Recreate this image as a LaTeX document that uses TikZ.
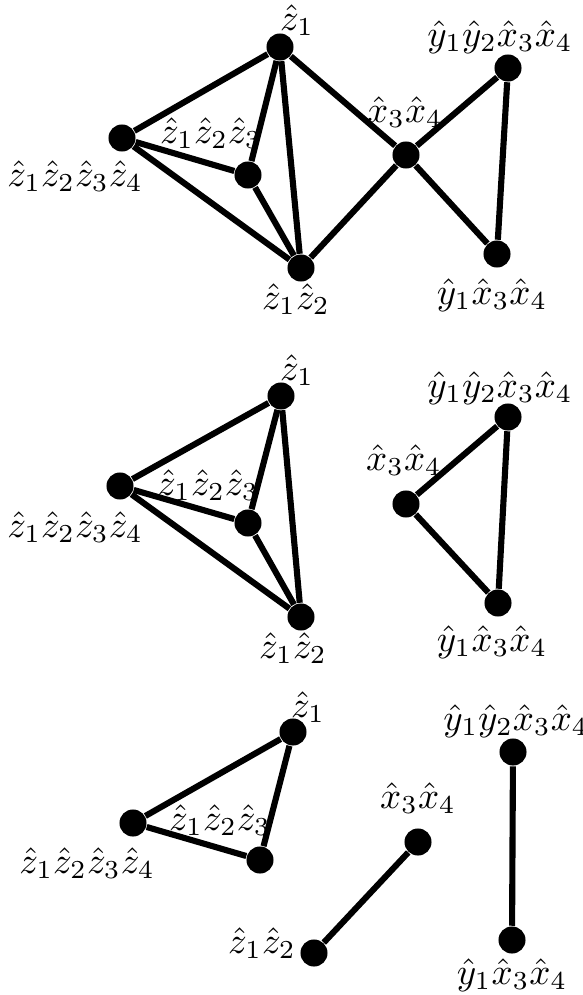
\documentclass[tikz,border=0pt]{standalone}
\usepackage{amsmath}
\usepackage{tikz}
\usetikzlibrary{positioning}

\begin{document}
\begin{tikzpicture}[
  x=0.27pt, y=-0.27pt,
  dot/.style={circle, fill=black, inner sep=0pt, minimum size=7.3pt},
  lab/.style={inner sep=0pt},
  edge/.style={line width=1.65pt}
]
\useasboundingbox (0,0) rectangle (582,995);

\node[dot] (p1z1)    at (280,47)  {};
\node[dot] (p1z1234) at (122,138) {};
\node[dot] (p1z123)  at (248,175) {};
\node[dot] (p1z12)   at (301,268) {};
\node[dot] (p1x34)   at (406,155) {};
\node[dot] (p1y12)   at (508,68)  {};
\node[dot] (p1y1)    at (497,254) {};
\node[lab] (p1l1)    at (297,20)  {$\hat{z}_1$};
\node[lab] (p1l1234) at (75,176)  {$\hat{z}_1\hat{z}_2\hat{z}_3\hat{z}_4$};
\node[lab] (p1l123)  at (211,133) {$\hat{z}_1\hat{z}_2\hat{z}_3$};
\node[lab] (p1l12)   at (296,299) {$\hat{z}_1\hat{z}_2$};
\node[lab] (p1lx34)  at (405,112) {$\hat{x}_3\hat{x}_4$};
\node[lab] (p1ly12)  at (500,37)  {$\hat{y}_1\hat{y}_2\hat{x}_3\hat{x}_4$};
\node[lab] (p1ly1)   at (492,295) {$\hat{y}_1\hat{x}_3\hat{x}_4$};
\draw[edge] (p1z1) -- (p1z1234);
\draw[edge] (p1z1) -- (p1z123);
\draw[edge] (p1z1) -- (p1z12);
\draw[edge] (p1z1) -- (p1x34);
\draw[edge] (p1z1234) -- (p1z123);
\draw[edge] (p1z1234) -- (p1z12);
\draw[edge] (p1z123) -- (p1z12);
\draw[edge] (p1z12) -- (p1x34);
\draw[edge] (p1x34) -- (p1y12);
\draw[edge] (p1x34) -- (p1y1);
\draw[edge] (p1y12) -- (p1y1);

\node[dot] (p2z1)    at (281,396) {};
\node[dot] (p2z1234) at (120,486) {};
\node[dot] (p2z123)  at (248,523) {};
\node[dot] (p2z12)   at (301,617) {};
\node[dot] (p2x34)   at (406,504) {};
\node[dot] (p2y12)   at (508,417) {};
\node[dot] (p2y1)    at (498,603) {};
\node[lab] (p2l1)    at (297,370) {$\hat{z}_1$};
\node[lab] (p2l1234) at (75,527)  {$\hat{z}_1\hat{z}_2\hat{z}_3\hat{z}_4$};
\node[lab] (p2l123)  at (208,485) {$\hat{z}_1\hat{z}_2\hat{z}_3$};
\node[lab] (p2l12)   at (293,648) {$\hat{z}_1\hat{z}_2$};
\node[lab] (p2lx34)  at (404,460) {$\hat{x}_3\hat{x}_4$};
\node[lab] (p2ly12)  at (500,388) {$\hat{y}_1\hat{y}_2\hat{x}_3\hat{x}_4$};
\node[lab] (p2ly1)   at (492,642) {$\hat{y}_1\hat{x}_3\hat{x}_4$};
\draw[edge] (p2z1) -- (p2z1234);
\draw[edge] (p2z1) -- (p2z123);
\draw[edge] (p2z1) -- (p2z12);
\draw[edge] (p2z1234) -- (p2z123);
\draw[edge] (p2z1234) -- (p2z12);
\draw[edge] (p2z123) -- (p2z12);
\draw[edge] (p2x34) -- (p2y12);
\draw[edge] (p2x34) -- (p2y1);
\draw[edge] (p2y12) -- (p2y1);

\node[dot] (p3z1)    at (293,732) {};
\node[dot] (p3z1234) at (133,823) {};
\node[dot] (p3z123)  at (260,860) {};
\node[dot] (p3z12)   at (314,953) {};
\node[dot] (p3x34)   at (418,842) {};
\node[dot] (p3y12)   at (513,752) {};
\node[dot] (p3y1)    at (512,940) {};
\node[lab] (p3l1)    at (308,707) {$\hat{z}_1$};
\node[lab] (p3l1234) at (87,863)  {$\hat{z}_1\hat{z}_2\hat{z}_3\hat{z}_4$};
\node[lab] (p3l123)  at (220,820) {$\hat{z}_1\hat{z}_2\hat{z}_3$};
\node[lab] (p3l12)   at (262,943) {$\hat{z}_1\hat{z}_2$};
\node[lab] (p3lx34)  at (418,798) {$\hat{x}_3\hat{x}_4$};
\node[lab] (p3ly12)  at (516,721) {$\hat{y}_1\hat{y}_2\hat{x}_3\hat{x}_4$};
\node[lab] (p3ly1)   at (512,975) {$\hat{y}_1\hat{x}_3\hat{x}_4$};
\draw[edge] (p3z1) -- (p3z1234);
\draw[edge] (p3z1) -- (p3z123);
\draw[edge] (p3z1234) -- (p3z123);
\draw[edge] (p3z12) -- (p3x34);
\draw[edge] (p3y12) -- (p3y1);
\end{tikzpicture}
\end{document}
